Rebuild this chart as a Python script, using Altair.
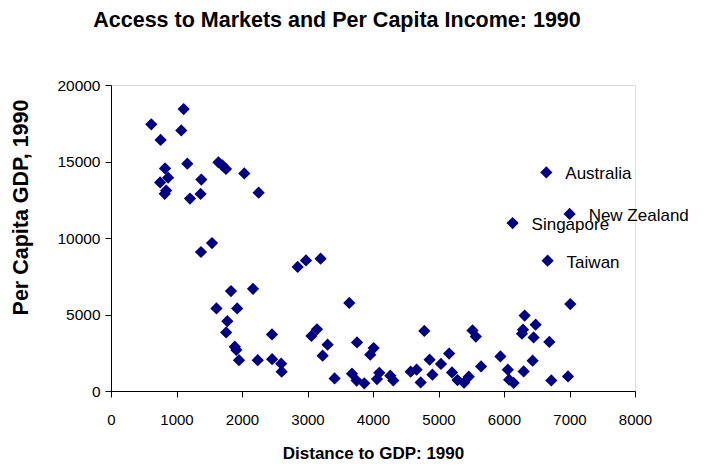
import altair as alt
import pandas as pd

# Unlabelled economies: distance to GDP (x) and per capita GDP (y), 1990
distance = [615, 1109, 1073, 757, 1165, 825, 1640, 1700, 1755, 2035, 2254, 750, 872, 842, 820,
            1379, 1368, 1206, 1542, 1374, 2850, 2977, 3200, 1832, 2168, 1610, 1926, 1776, 1758,
            2458, 1890, 1913, 1954, 2240, 2460, 2598, 2605, 3638, 3060, 3145, 3307, 3231, 3756,
            4010, 3958, 3414, 3679, 3750, 3867, 4096, 4061, 4264, 4310, 4575, 4666, 4728, 4783,
            4864, 4907, 5038, 5162, 5206, 5290, 5390, 5462, 5519, 5570, 5650, 5945, 6058, 6078,
            6147, 6300, 6437, 6315, 6483, 6290, 6274, 6452, 6692, 6722, 6977, 7012]
gdp = [17430, 18430, 17030, 16410, 14860, 14550, 14950, 14750, 14510, 14220, 12960, 13630, 13940,
       13100, 12890, 13820, 12880, 12580, 9670, 9085, 8105, 8536, 8647, 6530, 6680, 5400, 5400,
       4560, 3830, 3700, 2900, 2680, 2010, 2010, 2080, 1784, 1260, 5752, 3600, 4030, 3026, 2307,
       3176, 2810, 2373, 824, 1131, 680, 500, 1190, 784, 1000, 693, 1262, 1392, 562, 3922, 2046,
       1065, 1765, 2450, 1216, 716, 540, 935, 3961, 3560, 1608, 2261, 1392, 739, 523, 1281, 1980,
       4930, 4333, 4007, 3745, 3503, 3203, 693, 954, 5686]

# Labelled economies
label_names = ["Australia", "New Zealand", "Singapore", "Taiwan"]
label_distance = [6646, 7002, 6131, 6666]
label_gdp = [14288, 11569, 10980, 8516]

x_ticks = [0, 1000, 2000, 3000, 4000, 5000, 6000, 7000, 8000]
y_ticks = [0, 5000, 10000, 15000, 20000]

points = pd.DataFrame({"distance": distance + label_distance, "gdp": gdp + label_gdp})
labels = pd.DataFrame({"name": label_names, "distance": label_distance, "gdp": label_gdp})

FONT = "Liberation Sans"

x_enc = alt.X(
    "distance:Q",
    scale=alt.Scale(domain=[0, 8000], nice=False, zero=True),
    axis=alt.Axis(
        values=x_ticks, title="Distance to GDP: 1990", grid=False,
        domainColor="black", tickColor="black", tickSize=6, labelPadding=15,
        labelFont=FONT, labelFontSize=15, labelColor="black", labelFlush=False,
        titleFont=FONT, titleFontSize=17, titleFontWeight="bold", titleColor="black",
        titlePadding=18, format="d",
    ),
)
y_enc = alt.Y(
    "gdp:Q",
    scale=alt.Scale(domain=[0, 20000], nice=False),
    axis=alt.Axis(
        values=y_ticks, title="Per Capita GDP, 1990", grid=False,
        domainColor="black", tickColor="black", tickSize=6, labelPadding=5,
        labelFont=FONT, labelFontSize=15.5, labelColor="black", labelFlush=False,
        titleFont=FONT, titleFontSize=21.5, titleFontWeight="bold", titleColor="black",
        titleAlign="center", titleBaseline="middle", titleAngle=270,
        titleX=-90, titleY=122, format="d",
    ),
)

pts = alt.Chart(points).mark_point(
    shape="diamond", filled=True, color="#000080", size=150, opacity=1
).encode(x=x_enc, y=y_enc)

txt = alt.Chart(labels).mark_text(
    align="left", baseline="middle", dx=19, dy=2, font=FONT, fontSize=17, color="black"
).encode(x="distance:Q", y="gdp:Q", text="name:N")

chart = (
    alt.layer(pts, txt)
    .properties(
        width=524, height=306,
        autosize=alt.AutoSizeParams(type="none"),
        padding={"left": 103, "top": 77, "right": 61, "bottom": 74},
        title=alt.TitleParams(
            text="Access to Markets and Per Capita Income: 1990",
            font=FONT, fontSize=21.5, fontWeight="bold", color="black",
            anchor="middle", frame="group", dx=-36, offset=47,
        ),
    )
    .configure_view(fill="#E0E0E0", stroke="#808080", strokeWidth=1.5)
    .configure(background="white")
)

chart.save("out.html", embed_options={"renderer": "svg", "actions": False})
